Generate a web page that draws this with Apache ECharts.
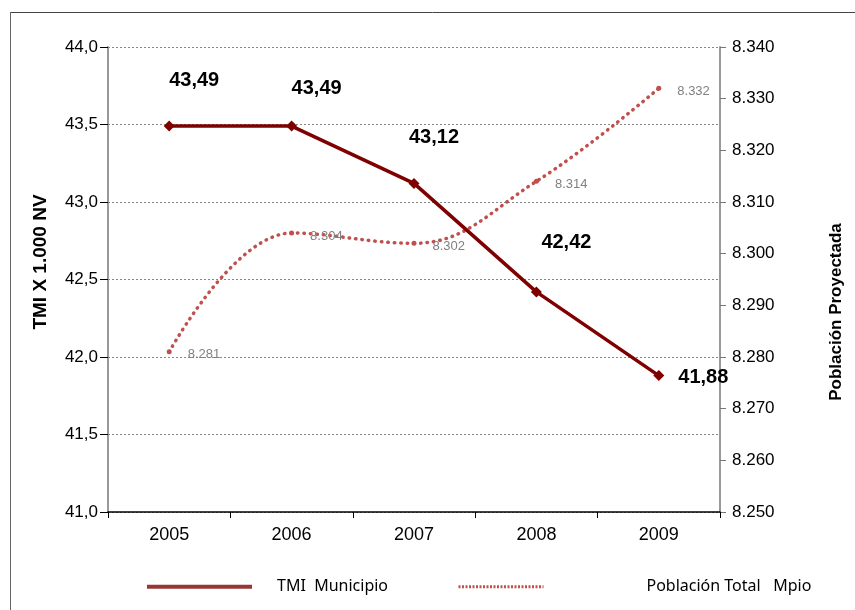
<!DOCTYPE html>
<html>
<head>
<meta charset="utf-8">
<script src="https://cdn.jsdelivr.net/npm/echarts@6/dist/echarts.min.js"></script>
<style>
  html, body { margin: 0; padding: 0; background: #fff; }
  #chart { width: 855px; height: 610px; }
</style>
</head>
<body>
<div id="chart"></div>
<script>
const years = ['2005', '2006', '2007', '2008', '2009'];
const tmiValues = [43.49, 43.49, 43.12, 42.42, 41.88];
const poblacionValues = [8281, 8304, 8302, 8314, 8332];
const tmiName = 'TMI  Municipio';
const poblacionName = 'Población Total   Mpio';

const narrow = "'Liberation Sans Narrow', 'Liberation Sans', Arial, sans-serif";
const arial = "'Liberation Sans', Arial, sans-serif";

// 41.88 -> "41,88"
function comma(v, digits) {
  return v.toFixed(digits).replace('.', ',');
}
// 8281 -> "8.281"
function miles(v) {
  const s = String(Math.round(v));
  return s.slice(0, s.length - 3) + '.' + s.slice(-3);
}

const chart = echarts.init(document.getElementById('chart'));

// label placement for the TMI values, one per year
const tmiLabelOffsets = [[25, -2], [25, 6], [20, -2], [30, -6], [0, 0]];

const option = {
  animation: false,
  backgroundColor: '#fff',
  // frame round the chart, only top and left edges are visible
  graphic: [{
    type: 'line',
    shape: { x1: 10, y1: 12.5, x2: 855, y2: 12.5 },
    style: { stroke: '#444', lineWidth: 1 },
    silent: true
  }, {
    type: 'line',
    shape: { x1: 10.5, y1: 12, x2: 10.5, y2: 610 },
    style: { stroke: '#666', lineWidth: 1 },
    silent: true
  }],
  grid: { left: 108, right: 135, top: 47, bottom: 98 },
  legend: [{
    left: 140,
    top: 573,
    itemWidth: 105,
    itemHeight: 22,
    data: [tmiName],
    itemStyle: { opacity: 0 },
    lineStyle: { width: 4, color: '#953735' },
    textStyle: { fontFamily: "'Noto Sans', sans-serif", fontSize: 16, color: '#000', padding: [0, 0, 0, 20] }
  }, {
    left: 452,
    top: 573,
    itemWidth: 85,
    itemHeight: 22,
    data: [poblacionName],
    itemStyle: { opacity: 0 },
    lineStyle: { width: 3, color: '#c0504d', type: [2, 1.5], cap: 'butt' },
    textStyle: { fontFamily: "'Noto Sans', sans-serif", fontSize: 16, color: '#000', padding: [0, 0, 0, 98] }
  }],
  xAxis: {
    type: 'category',
    data: years,
    boundaryGap: true,
    axisLine: { lineStyle: { color: '#000', width: 1.5 } },
    axisTick: { show: true, length: 6, lineStyle: { color: '#000' } },
    axisLabel: { fontFamily: narrow, fontSize: 18, color: '#000', margin: 14 }
  },
  yAxis: [{
    type: 'value',
    min: 41,
    max: 44,
    interval: 0.5,
    name: 'TMI X 1.000 NV',
    nameLocation: 'middle',
    nameGap: 58,
    nameTextStyle: { fontFamily: arial, fontWeight: 'bold', fontSize: 19, color: '#000', padding: [0, 0, 0, 35] },
    axisLine: { show: true, lineStyle: { color: '#999', width: 2 } },
    axisTick: { show: true, length: 8, lineStyle: { color: '#000' } },
    axisLabel: { fontFamily: arial, fontSize: 17, color: '#000', margin: 10, formatter: v => comma(v, 1) },
    splitLine: { lineStyle: { color: '#888', type: [2, 2], width: 1 } }
  }, {
    type: 'value',
    min: 8250,
    max: 8340,
    interval: 10,
    position: 'right',
    name: 'Población Proyectada',
    nameLocation: 'middle',
    nameRotate: 90,
    nameGap: 108,
    nameTextStyle: { fontFamily: arial, fontWeight: 'bold', fontSize: 17, color: '#000', padding: [0, 65, 0, 0] },
    axisLine: { show: true, lineStyle: { color: '#999', width: 2 } },
    axisTick: { show: true, length: 6, lineStyle: { color: '#777' } },
    axisLabel: { fontFamily: arial, fontSize: 17, color: '#000', margin: 12, formatter: miles },
    splitLine: { show: false }
  }],
  series: [{
    name: poblacionName,
    type: 'line',
    yAxisIndex: 1,
    data: poblacionValues,
    smooth: 0.4,
    symbol: 'circle',
    symbolSize: 5,
    itemStyle: { color: '#c0504d' },
    lineStyle: { color: '#c0504d', width: 3.5, type: [0.5, 6], cap: 'round' },
    label: {
      show: true,
      position: 'right',
      distance: 16,
      offset: [0, 3],
      fontFamily: narrow,
      fontSize: 13,
      color: '#808080',
      formatter: p => miles(p.value)
    },
    z: 2
  }, {
    name: tmiName,
    type: 'line',
    yAxisIndex: 0,
    data: tmiValues.map((v, i) => ({
      value: v,
      label: i === tmiValues.length - 1
        ? { position: 'right', distance: 14, offset: [0, 2] }
        : { position: 'top', distance: 28, offset: tmiLabelOffsets[i] }
    })),
    symbol: 'diamond',
    symbolSize: 11,
    itemStyle: { color: '#7f0000' },
    lineStyle: { color: '#7f0000', width: 3.5 },
    label: {
      show: true,
      fontFamily: narrow,
      fontWeight: 'bold',
      fontSize: 20,
      color: '#000',
      formatter: p => comma(p.value, 2)
    },
    z: 3
  }]
};

chart.setOption(option);
</script>
</body>
</html>
